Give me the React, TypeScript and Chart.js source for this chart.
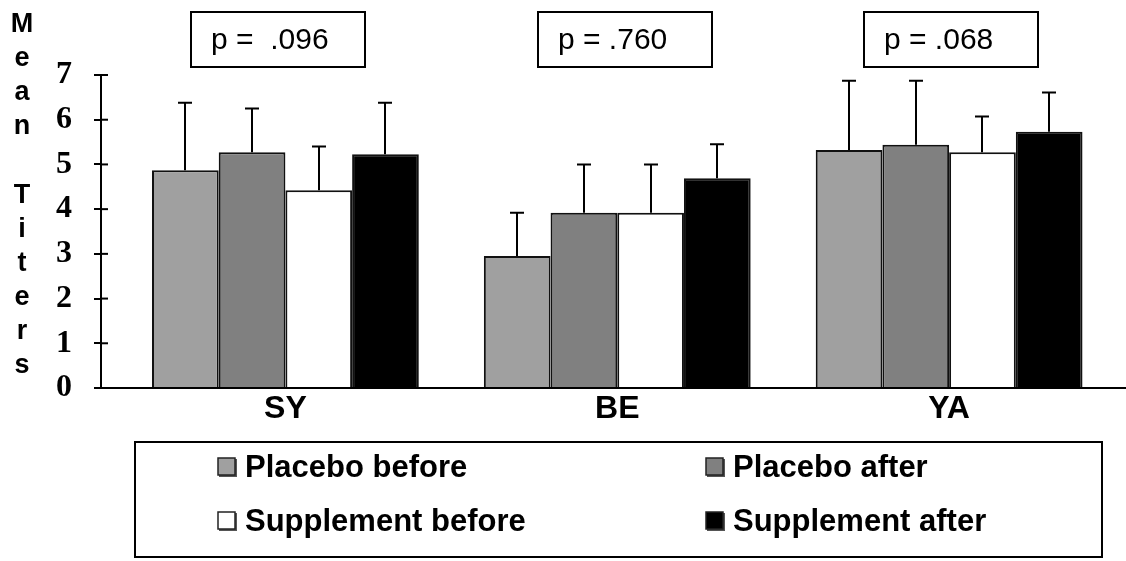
import React, { useEffect, useRef } from 'react';
import { Chart, registerables } from 'chart.js';

Chart.register(...registerables);

const categories = ['SY', 'BE', 'YA'];
const seriesLabels = ['Placebo before', 'Placebo after', 'Supplement before', 'Supplement after'];
const placeboBefore = [4.87, 2.95, 5.32];
const placeboAfter = [5.27, 3.92, 5.44];
const supplementBefore = [4.42, 3.92, 5.27];
const supplementAfter = [5.23, 4.69, 5.73];
const placeboBeforeErr = [1.51, 0.97, 1.55];
const placeboAfterErr = [0.98, 1.08, 1.43];
const supplementBeforeErr = [0.98, 1.08, 0.8];
const supplementAfterErr = [1.15, 0.76, 0.88];
const pValues = ['p =  .096', 'p = .760', 'p = .068'];
const yTitle = 'Mean Titers';
const yMin = 0;
const yMax = 7;

const seriesValues = [placeboBefore, placeboAfter, supplementBefore, supplementAfter];
const seriesErrors = [placeboBeforeErr, placeboAfterErr, supplementBeforeErr, supplementAfterErr];
const seriesColors = ['#a0a0a0', '#808080', '#ffffff', '#000000'];

const SANS = "'Liberation Sans', Arial, sans-serif";
const SERIF = "'Liberation Serif', 'Times New Roman', serif";

const decorPlugin = {
  id: 'decor',
  afterDatasetsDraw(chart: any) {
    const ctx = chart.ctx;
    const yScale = chart.scales.y;
    ctx.save();
    ctx.strokeStyle = '#000';
    ctx.lineWidth = 2;
    // error bars (upper only)
    seriesValues.forEach((vals, k) => {
      const meta = chart.getDatasetMeta(k);
      vals.forEach((v, i) => {
        const bar = meta.data[i];
        if (!bar) return;
        const x = Math.round(bar.x);
        const y0 = yScale.getPixelForValue(v);
        const y1 = yScale.getPixelForValue(v + seriesErrors[k][i]);
        ctx.beginPath();
        ctx.moveTo(x, y0);
        ctx.lineTo(x, y1);
        ctx.moveTo(x - 7, y1);
        ctx.lineTo(x + 7, y1);
        ctx.stroke();
      });
    });
    ctx.restore();
  },
  afterDraw(chart: any) {
    const ctx = chart.ctx;
    const area = chart.chartArea;
    const yScale = chart.scales.y;
    const xScale = chart.scales.x;
    ctx.save();
    // inner half of the crossing tick marks
    ctx.strokeStyle = '#000';
    ctx.lineWidth = 2;
    yScale.ticks.forEach((t: any) => {
      const y = yScale.getPixelForValue(t.value);
      ctx.beginPath();
      ctx.moveTo(area.left, y);
      ctx.lineTo(area.left + 7, y);
      ctx.stroke();
    });

    // stacked axis title
    ctx.fillStyle = '#000';
    ctx.font = `bold 27px ${SANS}`;
    ctx.textAlign = 'center';
    ctx.textBaseline = 'alphabetic';
    const letters = yTitle.split('');
    letters.forEach((ch, i) => {
      ctx.fillText(ch, 22, 32 + i * 34.1);
    });

    // p-value boxes
    const boxOffsets = [-7, 7.5, 1.5];
    const boxW = 174;
    pValues.forEach((p, i) => {
      const cx = xScale.getPixelForValue(i + 1) + boxOffsets[i];
      const left = Math.round(cx - boxW / 2);
      ctx.lineWidth = 2;
      ctx.strokeStyle = '#000';
      ctx.strokeRect(left, 12, boxW, 55);
      ctx.fillStyle = '#000';
      ctx.font = `30px ${SANS}`;
      ctx.textAlign = 'left';
      ctx.textBaseline = 'middle';
      ctx.fillText(p, left + 20, 41);
    });

    // legend box
    ctx.lineWidth = 2;
    ctx.strokeStyle = '#000';
    ctx.strokeRect(135, 442, 967, 115);
    const colX = [218, 706];
    const rowY = [467, 521];
    seriesLabels.forEach((label, k) => {
      const x = colX[k % 2];
      const y = rowY[Math.floor(k / 2)];
      ctx.fillStyle = '#555';
      ctx.fillRect(x + 1, y - 8, 18, 18);
      ctx.fillStyle = seriesColors[k];
      ctx.fillRect(x, y - 9, 17, 17);
      ctx.lineWidth = 1.5;
      ctx.strokeStyle = '#222';
      ctx.strokeRect(x, y - 9, 17, 17);
      ctx.fillStyle = '#000';
      ctx.font = `bold 31px ${SANS}`;
      ctx.textAlign = 'left';
      ctx.textBaseline = 'middle';
      ctx.fillText(label, x + 27, y + 1);
    });
    ctx.restore();
  },
};

export default function App() {
  const canvasRef = useRef<HTMLCanvasElement | null>(null);

  useEffect(() => {
    if (!canvasRef.current) return;
    const chart = new Chart(canvasRef.current, {
      type: 'bar',
      data: {
        datasets: seriesLabels.map((label, k) => ({
          label,
          data: seriesValues[k].map((v, i) => ({ x: i + 1, y: v })),
          backgroundColor: seriesColors[k],
          borderColor: '#111',
          borderWidth: 2,
          categoryPercentage: 0.804,
          barPercentage: 1,
        })),
      },
      options: {
        responsive: false,
        animation: false,
        devicePixelRatio: 1,
        layout: { padding: { top: 75, left: 0, right: 0, bottom: 0 } },
        plugins: {
          legend: { display: false },
          tooltip: { enabled: false },
        },
        scales: {
          x: {
            type: 'linear',
            offset: false,
            min: 0.4443,
            max: 3.533,
            afterBuildTicks: (s: any) => {
              s.ticks = categories.map((_, i) => ({ value: i + 1 }));
            },
            afterFit: (s: any) => {
              s.height = 173;
            },
            ticks: {
              callback: (v: any) => categories[Math.round(v) - 1] ?? '',
              font: { family: SANS, weight: 'bold', size: 32 },
              color: '#000',
              padding: 2,
              maxRotation: 0,
              autoSkip: false,
            },
            grid: { display: false, drawTicks: false, offset: false },
            border: { display: true, color: '#000', width: 2 },
          },
          y: {
            min: yMin,
            max: yMax,
            afterFit: (s: any) => {
              s.width = 101;
            },
            ticks: {
              stepSize: 1,
              font: { family: SERIF, weight: 'bold', size: 32 },
              color: '#000',
              padding: 22,
            },
            grid: { drawOnChartArea: false, tickLength: 7, color: '#000', lineWidth: 2 },
            border: { display: true, color: '#000', width: 2 },
          },
        },
      },
      plugins: [decorPlugin],
    } as any);
    return () => chart.destroy();
  }, []);

  return (
    <div style={{ position: 'fixed', left: 0, top: 0, width: 1126, height: 561, background: '#fff' }}>
      <canvas ref={canvasRef} width={1126} height={561} style={{ display: 'block' }} />
    </div>
  );
}
